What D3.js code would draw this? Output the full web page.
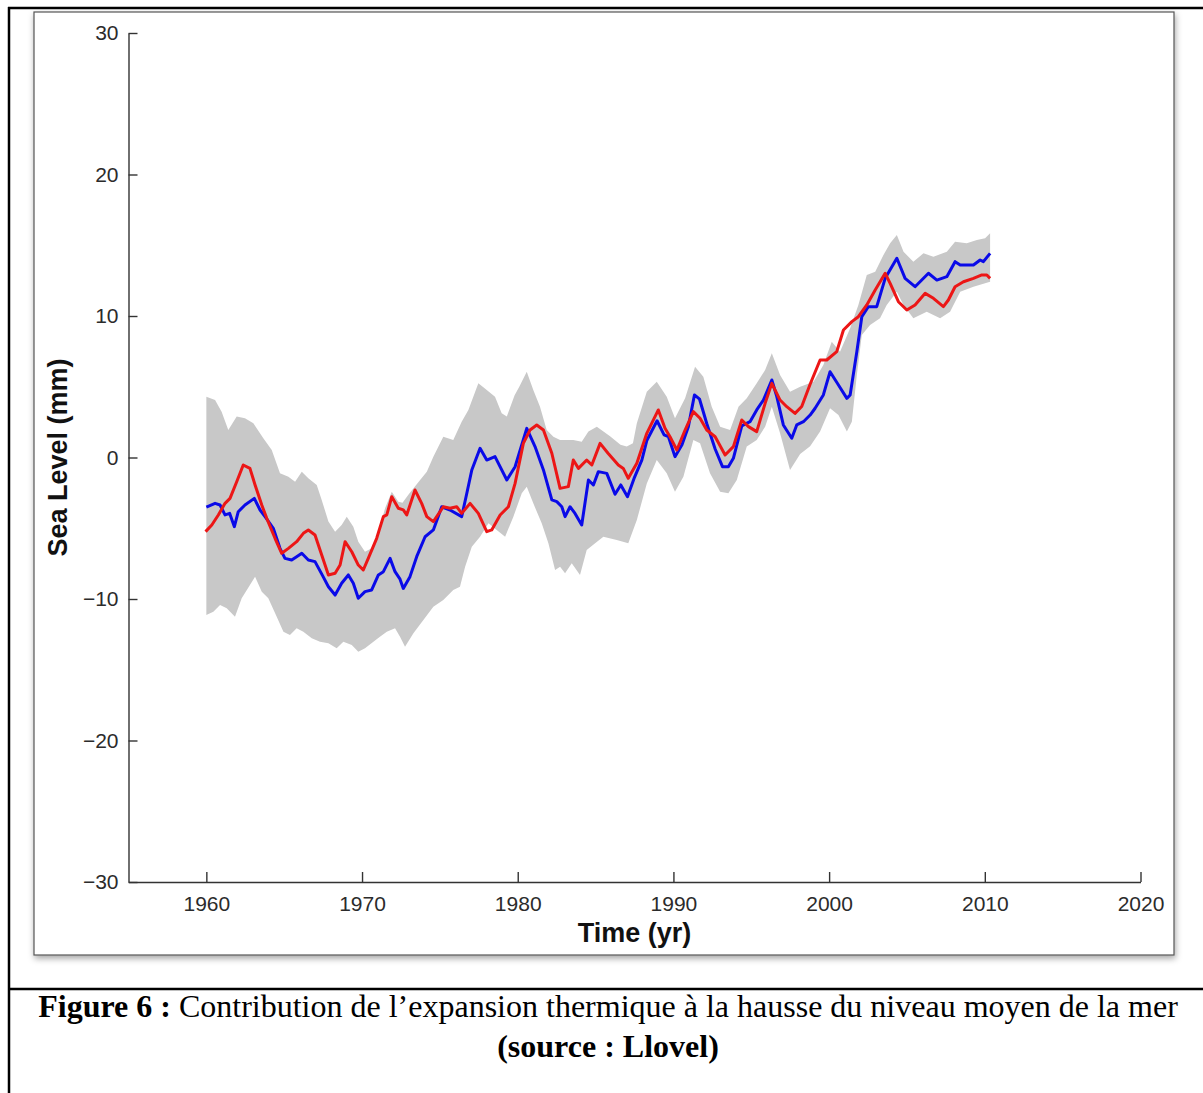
<!DOCTYPE html>
<html lang="fr">
<head>
<meta charset="UTF-8">
<title>Figure 6 - Sea Level</title>
<script src="https://d3js.org/d3.v7.min.js"></script>
<style>
  body, html { margin: 0; background: #fff; }
  svg { display: block; }
  .axis path, .axis line { stroke: #333; stroke-width: 1.4; }
  .axis text { font-family: "Liberation Sans", Arial, sans-serif; font-size: 21px; fill: #2b2b2b; }
  .axis-title { font-family: "Liberation Sans", Arial, sans-serif; font-size: 27px; font-weight: bold; fill: #111; }
  .caption { font-family: "Liberation Serif", "Times New Roman", serif; font-size: 32px; fill: #000; }
</style>
</head>
<body>
<svg id="fig" width="1203" height="1093"></svg>
<script>
// tick values
const xTicks = [1960, 1970, 1980, 1990, 2000, 2010, 2020];
const yTicks = [-30, -20, -10, 0, 10, 20, 30];

// [year, sea level mm]
const blueSeries = [
  [1960.0, -3.5], [1960.56, -3.24], [1960.88, -3.36], [1961.2, -4.06], [1961.5, -3.95],
  [1961.8, -4.89], [1962.05, -3.83], [1962.48, -3.36], [1963.08, -2.89], [1963.45, -3.71],
  [1963.77, -4.18], [1964.3, -5.0], [1964.73, -6.42], [1965.05, -7.13], [1965.48, -7.24],
  [1965.8, -7.01], [1966.13, -6.77], [1966.55, -7.24], [1966.98, -7.36], [1967.5, -8.42],
  [1967.84, -9.13], [1968.27, -9.72], [1968.69, -8.89], [1969.12, -8.3], [1969.44, -8.89],
  [1969.76, -9.95], [1970.19, -9.48], [1970.62, -9.36], [1971.05, -8.3], [1971.37, -8.07],
  [1971.8, -7.13], [1972.12, -8.07], [1972.44, -8.6], [1972.65, -9.25], [1973.08, -8.42],
  [1973.51, -7.01], [1974.05, -5.6], [1974.58, -5.12], [1975.12, -3.48], [1975.65, -3.71],
  [1976.4, -4.18], [1976.73, -2.53], [1977.05, -0.88], [1977.58, 0.65], [1978.01, -0.18],
  [1978.54, 0.06], [1979.3, -1.59], [1979.83, -0.65], [1980.58, 2.06], [1981.11, 0.77],
  [1981.65, -0.88], [1982.19, -3.0], [1982.51, -3.12], [1982.83, -3.48], [1983.04, -4.18],
  [1983.36, -3.48], [1983.68, -3.95], [1984.11, -4.77], [1984.54, -1.59], [1984.86, -1.94],
  [1985.18, -1.0], [1985.72, -1.12], [1986.25, -2.6], [1986.62, -1.94], [1987.05, -2.77],
  [1987.5, -1.4], [1987.97, -0.18], [1988.29, 1.2], [1988.95, 2.6], [1989.4, 1.6],
  [1989.68, 1.47], [1990.1, 0.06], [1990.55, 0.9], [1990.96, 2.18], [1991.35, 4.42],
  [1991.68, 4.12], [1992.14, 2.4], [1992.68, 0.6], [1993.15, -0.65], [1993.53, -0.65],
  [1993.85, -0.06], [1994.39, 2.24], [1994.92, 2.53], [1995.35, 3.36], [1995.78, 4.06],
  [1996.32, 5.48], [1996.64, 4.3], [1997.06, 2.3], [1997.6, 1.36], [1997.92, 2.3],
  [1998.35, 2.53], [1998.78, 3.0], [1999.1, 3.48], [1999.63, 4.42], [2000.06, 6.06],
  [2000.6, 5.12], [2001.14, 4.18], [2001.35, 4.42], [2001.78, 7.48], [2002.1, 9.95],
  [2002.52, 10.66], [2003.06, 10.66], [2003.6, 12.66], [2004.35, 14.08], [2004.88, 12.66],
  [2005.52, 12.07], [2006.38, 13.02], [2006.92, 12.54], [2007.56, 12.78], [2008.09, 13.84],
  [2008.42, 13.6], [2009.27, 13.6], [2009.7, 13.96], [2009.91, 13.84], [2010.34, 14.43]
];

const redSeries = [
  [1959.95, -5.24], [1960.35, -4.77], [1960.77, -4.06], [1961.2, -3.24], [1961.52, -2.89],
  [1961.95, -1.71], [1962.37, -0.53], [1962.8, -0.77], [1963.13, -1.94], [1963.56, -3.36],
  [1963.88, -4.3], [1964.41, -5.71], [1964.84, -6.77], [1965.27, -6.42], [1965.8, -5.95],
  [1966.23, -5.36], [1966.55, -5.12], [1966.98, -5.48], [1967.41, -6.89], [1967.84, -8.3],
  [1968.27, -8.18], [1968.59, -7.6], [1968.91, -5.95], [1969.34, -6.66], [1969.76, -7.6],
  [1970.08, -7.95], [1970.4, -7.13], [1970.94, -5.71], [1971.37, -4.18], [1971.59, -4.06],
  [1971.91, -2.77], [1972.33, -3.59], [1972.65, -3.7], [1972.87, -4.06], [1973.4, -2.3],
  [1973.83, -3.24], [1974.16, -4.18], [1974.58, -4.53], [1975.22, -3.48], [1975.65, -3.59],
  [1976.08, -3.48], [1976.4, -3.95], [1976.94, -3.24], [1977.47, -3.95], [1978.01, -5.24],
  [1978.33, -5.12], [1978.87, -4.06], [1979.4, -3.48], [1979.83, -1.83], [1980.36, 1.0],
  [1980.79, 1.94], [1981.22, 2.3], [1981.65, 1.94], [1982.19, 0.3], [1982.72, -2.18],
  [1983.25, -2.06], [1983.57, -0.18], [1983.9, -0.77], [1984.43, -0.18], [1984.76, -0.53],
  [1985.29, 1.0], [1985.8, 0.3], [1986.46, -0.53], [1986.78, -0.77], [1987.1, -1.47],
  [1987.65, -0.41], [1988.29, 1.71], [1989.03, 3.36], [1989.46, 2.06], [1989.78, 1.47],
  [1990.22, 0.53], [1990.75, 1.94], [1991.28, 3.24], [1991.71, 2.77], [1992.14, 1.94],
  [1992.68, 1.47], [1993.32, 0.18], [1993.85, 0.77], [1994.39, 2.65], [1994.82, 2.18],
  [1995.35, 1.83], [1995.89, 3.83], [1996.32, 5.24], [1996.85, 4.06], [1997.28, 3.59],
  [1997.81, 3.12], [1998.24, 3.6], [1998.78, 5.18], [1999.42, 6.89], [1999.85, 6.89],
  [2000.49, 7.48], [2000.92, 9.01], [2001.46, 9.6], [2001.88, 9.95], [2002.42, 10.78],
  [2002.96, 11.84], [2003.6, 13.02], [2003.92, 12.31], [2004.45, 11.01], [2004.99, 10.42],
  [2005.52, 10.78], [2006.17, 11.6], [2006.7, 11.25], [2007.34, 10.66], [2007.66, 11.13],
  [2008.09, 12.07], [2008.63, 12.42], [2009.27, 12.66], [2009.81, 12.9], [2010.13, 12.9],
  [2010.34, 12.66]
];

// grey uncertainty envelope
const bandUpper = [
  [1960.0, 4.3], [1960.56, 4.06], [1960.98, 3.24], [1961.41, 1.94], [1961.95, 2.89],
  [1962.48, 2.77], [1963.02, 2.42], [1963.66, 1.36], [1964.2, 0.53], [1964.73, -1.12],
  [1965.27, -1.36], [1965.7, -1.71], [1966.13, -1.0], [1966.55, -1.47], [1967.09, -1.94],
  [1967.41, -3.0], [1967.84, -4.53], [1968.27, -5.24], [1968.69, -4.77], [1969.02, -4.18],
  [1969.44, -4.89], [1969.76, -5.95], [1970.19, -6.66], [1970.62, -6.42], [1971.05, -5.24],
  [1971.48, -3.59], [1971.91, -2.42], [1972.33, -3.12], [1972.6, -3.2], [1973.0, -2.6],
  [1973.73, -1.59], [1974.16, -1.0], [1974.58, 0.06], [1975.22, 1.47], [1975.86, 1.24],
  [1976.4, 2.53], [1976.83, 3.36], [1977.47, 5.24], [1978.01, 4.77], [1978.54, 4.3],
  [1978.97, 3.12], [1979.3, 2.9], [1979.8, 4.4], [1980.1, 5.0], [1980.58, 6.06],
  [1981.0, 4.77], [1981.43, 3.59], [1981.86, 1.94], [1982.29, 1.47], [1982.72, 1.24],
  [1983.57, 1.24], [1984.11, 1.12], [1984.54, 1.83], [1985.08, 2.18], [1985.93, 1.5],
  [1986.6, 0.9], [1987.0, 0.77], [1987.4, 1.0], [1987.65, 2.42], [1988.29, 4.65],
  [1988.93, 5.36], [1989.57, 4.3], [1990.1, 2.77], [1990.75, 4.18], [1991.39, 6.42],
  [1991.92, 5.71], [1992.46, 3.59], [1993.0, 2.18], [1993.64, 1.94], [1994.18, 3.59],
  [1994.71, 4.18], [1995.35, 5.24], [1995.89, 6.18], [1996.32, 7.36], [1996.85, 5.83],
  [1997.49, 4.65], [1998.14, 5.0], [1999.0, 5.36], [1999.63, 6.54], [2000.17, 8.18],
  [2000.7, 7.48], [2001.35, 9.13], [2001.88, 10.78], [2002.42, 12.9], [2002.96, 13.13],
  [2003.49, 14.31], [2003.92, 15.14], [2004.35, 15.72], [2004.78, 14.54], [2005.41, 13.84],
  [2006.06, 14.43], [2006.7, 14.19], [2007.56, 14.54], [2008.09, 15.25], [2008.84, 15.14],
  [2009.49, 15.37], [2010.02, 15.49], [2010.34, 15.84]
];

const bandLower = [
  [1960.0, -11.13], [1960.45, -10.9], [1960.88, -10.42], [1961.31, -10.66], [1961.84, -11.25],
  [1962.27, -9.95], [1962.8, -9.01], [1963.13, -8.42], [1963.56, -9.48], [1963.98, -9.95],
  [1964.52, -11.25], [1964.95, -12.31], [1965.37, -12.54], [1965.8, -12.07], [1966.23, -12.31],
  [1966.77, -12.78], [1967.3, -13.02], [1967.84, -13.13], [1968.37, -13.48], [1968.8, -13.02],
  [1969.34, -13.25], [1969.76, -13.72], [1970.19, -13.48], [1970.73, -13.02], [1971.15, -12.66],
  [1971.59, -12.31], [1972.12, -12.07], [1972.44, -12.66], [1972.76, -13.37], [1973.3, -12.42],
  [1973.94, -11.48], [1974.58, -10.54], [1975.22, -10.07], [1975.86, -9.36], [1976.29, -9.13],
  [1976.62, -7.72], [1977.05, -6.3], [1977.58, -5.6], [1978.12, -4.65], [1978.65, -5.12],
  [1979.19, -5.6], [1979.72, -4.18], [1980.26, -2.53], [1980.58, -2.06], [1981.0, -3.24],
  [1981.54, -4.65], [1981.97, -6.06], [1982.4, -7.95], [1982.72, -7.72], [1983.04, -8.18],
  [1983.47, -7.48], [1984.0, -8.3], [1984.43, -6.54], [1984.97, -6.06], [1985.5, -5.6],
  [1986.36, -5.83], [1987.1, -6.06], [1987.65, -4.42], [1988.29, -1.83], [1988.93, -0.18],
  [1989.57, -1.12], [1990.1, -2.42], [1990.64, -1.36], [1991.28, 1.24], [1991.71, 1.0],
  [1992.35, -1.12], [1993.0, -2.42], [1993.53, -2.53], [1994.07, -1.59], [1994.71, 0.77],
  [1995.35, 1.24], [1995.89, 2.18], [1996.32, 3.59], [1996.85, 1.71], [1997.49, -0.88],
  [1998.14, 0.24], [1998.78, 0.8], [1999.42, 1.83], [2000.06, 3.48], [2000.6, 3.0],
  [2001.14, 1.83], [2001.46, 2.53], [2001.78, 5.83], [2002.1, 8.66], [2002.63, 9.36],
  [2003.27, 9.84], [2003.7, 10.78], [2004.35, 11.72], [2004.78, 10.78], [2005.41, 9.84],
  [2006.27, 10.3], [2007.13, 9.84], [2007.77, 10.3], [2008.42, 11.72], [2009.27, 12.07],
  [2010.34, 12.42]
];

const xLabel = "Time (yr)";
const yLabel = "Sea Level (mm)";
const captionBold = "Figure 6 :";
const captionText = " Contribution de l\u2019expansion thermique \u00e0 la hausse du niveau moyen de la mer";
const captionSource = "(source : Llovel)";

const svg = d3.select("#fig");

// page / table frame
svg.append("line").attr("x1", 8).attr("x2", 1203).attr("y1", 8).attr("y2", 8)
  .attr("stroke", "#000").attr("stroke-width", 2.5);
svg.append("line").attr("x1", 9).attr("x2", 9).attr("y1", 7).attr("y2", 1093)
  .attr("stroke", "#000").attr("stroke-width", 2.5);
svg.append("line").attr("x1", 8).attr("x2", 1203).attr("y1", 989).attr("y2", 989)
  .attr("stroke", "#000").attr("stroke-width", 2.5);

// image frame with a soft shadow
const defs = svg.append("defs");
const shadow = defs.append("filter").attr("id", "shadow")
  .attr("x", "-5%").attr("y", "-5%").attr("width", "110%").attr("height", "110%");
shadow.append("feDropShadow").attr("dx", 1).attr("dy", 3).attr("stdDeviation", 3)
  .attr("flood-color", "#000").attr("flood-opacity", 0.35);

svg.append("rect")
  .attr("x", 34).attr("y", 12).attr("width", 1140).attr("height", 943)
  .attr("fill", "#fff").attr("stroke", "#555").attr("stroke-width", 1.2)
  .attr("filter", "url(#shadow)");

// scales
const x = d3.scaleLinear().domain([1955, 2020]).range([128.5, 1140.5]);
const y = d3.scaleLinear().domain([-30, 30]).range([882, 33]);

const line = d3.line().x(d => x(d[0])).y(d => y(d[1]));

// envelope
const bandPoints = bandUpper.concat(bandLower.slice().reverse());
svg.append("path")
  .attr("d", line(bandPoints) + "Z")
  .attr("fill", "#c8c8c8")
  .attr("stroke", "none");

// series
svg.append("path")
  .datum(blueSeries)
  .attr("d", line)
  .attr("fill", "none")
  .attr("stroke", "#0a0ae8")
  .attr("stroke-width", 3)
  .attr("stroke-linejoin", "round");

svg.append("path")
  .datum(redSeries)
  .attr("d", line)
  .attr("fill", "none")
  .attr("stroke", "#ec1616")
  .attr("stroke-width", 3)
  .attr("stroke-linejoin", "round");

// axes (matlab style: ticks pointing inwards, no box)
svg.append("g")
  .attr("class", "axis")
  .attr("transform", `translate(0,${y(-30)})`)
  .call(d3.axisBottom(x).tickValues(xTicks).tickFormat(d3.format("d"))
    .tickSizeInner(-10).tickSizeOuter(0).tickPadding(14));

svg.append("g")
  .attr("class", "axis")
  .attr("transform", `translate(${x(1955)},0)`)
  .call(d3.axisLeft(y).tickValues(yTicks).tickSizeInner(-9).tickSizeOuter(0).tickPadding(10));

svg.selectAll(".axis").attr("font-family", null).attr("font-size", null);

// axis titles
svg.append("text")
  .attr("class", "axis-title")
  .attr("x", (x(1955) + x(2020)) / 2)
  .attr("y", 942)
  .attr("text-anchor", "middle")
  .text(xLabel);

svg.append("text")
  .attr("class", "axis-title")
  .attr("transform", `translate(58,${(y(-30) + y(30)) / 2}) rotate(-90)`)
  .attr("text-anchor", "middle")
  .attr("dy", "0.35em")
  .text(yLabel);

// caption
const cap = svg.append("text")
  .attr("class", "caption")
  .attr("x", 608)
  .attr("y", 1017)
  .attr("text-anchor", "middle");
cap.append("tspan").attr("font-weight", "bold").text(captionBold);
cap.append("tspan").text(captionText);

svg.append("text")
  .attr("class", "caption")
  .attr("x", 608)
  .attr("y", 1057)
  .attr("text-anchor", "middle")
  .attr("font-weight", "bold")
  .text(captionSource);
</script>
</body>
</html>
